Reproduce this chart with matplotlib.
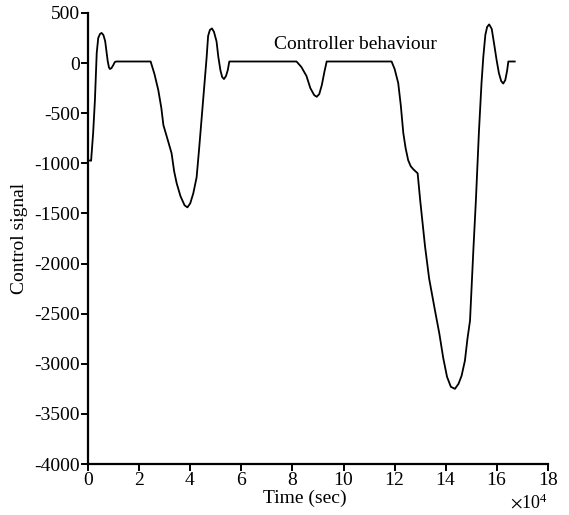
import numpy as np
import matplotlib
matplotlib.use("Agg")
import matplotlib.pyplot as plt

plt.rcParams.update({"font.family": "Liberation Serif", "mathtext.fontset": "stix",
    "font.size": 14, "axes.unicode_minus": False})

# controller output over the run (time in seconds)
t_sec = np.array([
    0, 1200, 2000, 2700, 3400, 4000, 4700, 5300, 6000, 6700, 7200, 7700, 8200, 8600,
    9200, 9900, 10500, 11000, 24500, 26000, 27500, 28700, 29500, 31000, 32700, 33700,
    34700, 36200, 37800, 38900, 40000, 41200, 42500, 43500, 44500, 45500, 46400, 47000,
    47700, 48500, 49300, 50300, 51000, 51800, 52500, 53200, 54000, 54700, 55300,
    81600, 83500, 85500, 87000, 88500, 89500, 90500, 91500, 92500, 93400,
    118800, 120000, 121400, 122400, 123400, 124300, 125300, 126300, 127300, 129000,
    130000, 131900, 133500, 135800, 137500, 139000, 140500, 142000, 143600, 145000,
    146200, 147500, 148500, 149500, 150800, 151800, 153000, 154000, 154700, 155500,
    156200, 157000, 158000, 159000, 159900, 160800, 161700, 162500, 163300, 164000,
    164500, 167000])
u = np.array([
    -970, -975, -700, -370, 100, 250, 290, 300, 280, 220, 120, 20, -45, -60,
    -50, -20, 10, 15, 15, -110, -270, -450, -620, -750, -900, -1080,
    -1200, -1330, -1420, -1440, -1400, -1300, -1140, -850, -540, -230, 50, 270,
    330, 345, 310, 215, 60, -70, -140, -160, -130, -70, 15,
    15, -40, -130, -250, -320, -337, -310, -220, -90, 15,
    15, -60, -200, -420, -700, -850, -970, -1030, -1060, -1100,
    -1370, -1830, -2150, -2470, -2700, -2940, -3130, -3230, -3250, -3200,
    -3120, -2970, -2750, -2570, -1870, -1370, -680, -200, 60, 280,
    360, 385, 340, 180, 30, -100, -180, -205, -170, -80,
    15, 15])

fig = plt.figure(figsize=(5.69, 5.15), dpi=100)
ax = fig.add_axes([0.1547, 0.099, 0.8083, 0.876])
ax.plot(t_sec, u, color="k", lw=1.3)

ax.set_xlim(0, 180000); ax.set_ylim(-4000, 500)
ax.set_xticks(np.arange(0, 180001, 20000))
ax.set_yticks(np.arange(-4000, 501, 500))
ax.ticklabel_format(axis="x", style="sci", scilimits=(4, 4), useMathText=True)
ax.xaxis.get_offset_text().set_fontsize(13)

for s in ("top", "right"):
    ax.spines[s].set_visible(False)
for s in ("left", "bottom"):
    ax.spines[s].set_linewidth(1.6)
ax.tick_params(direction="out", length=5, width=1.4, pad=1)

ax.set_xlabel("Time (sec)")
ax.xaxis.set_label_coords(0.472, -0.058)
ax.set_ylabel("Control signal", labelpad=4)
ax.text(104500, 135, "Controller behaviour", ha="center", va="baseline")

fig.savefig("out.png", dpi=100)
